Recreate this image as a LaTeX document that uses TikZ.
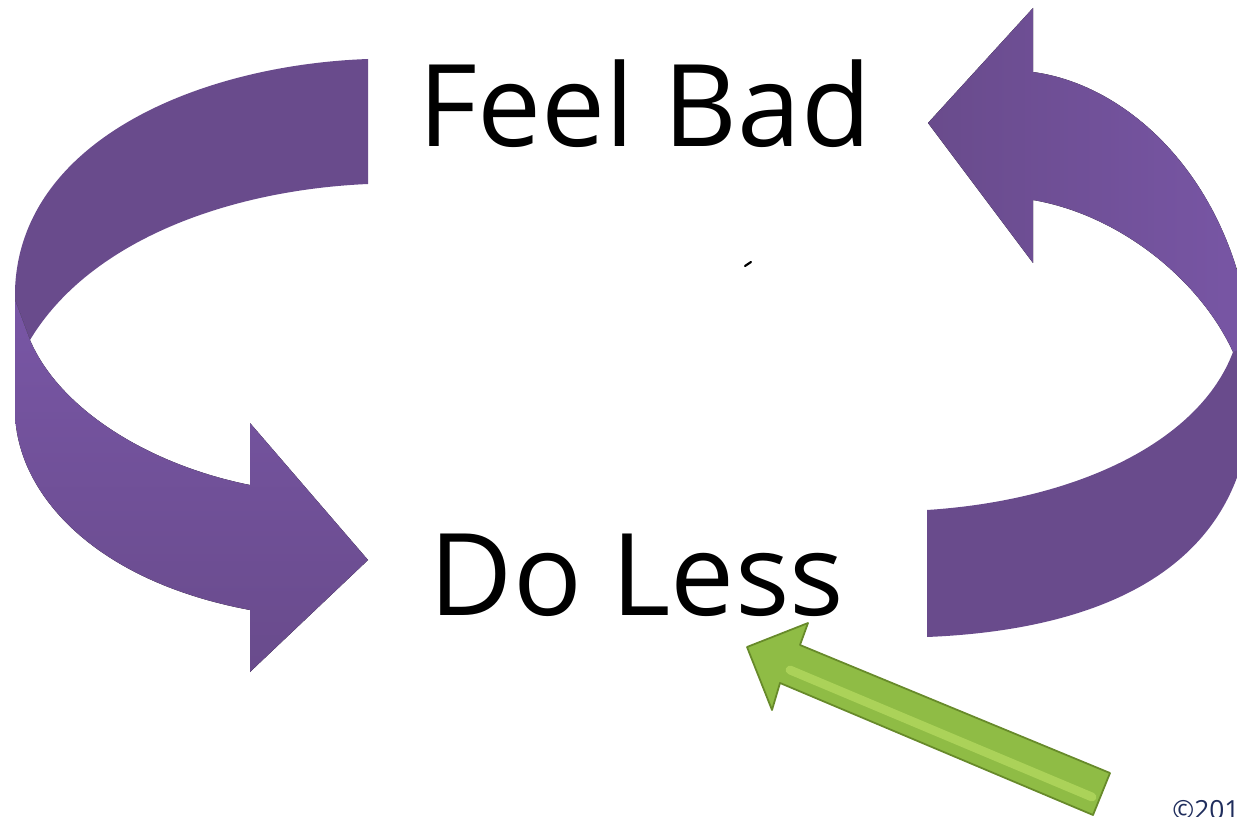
\documentclass[tikz,border=0pt]{standalone}
\usepackage{fontspec}
\setmainfont{Open Sans}
\definecolor{loopdark}{HTML}{694B8C}
\definecolor{looplight}{HTML}{7856A5}
\definecolor{pushgreen}{HTML}{8FBC45}
\definecolor{pushlight}{HTML}{B2D85E}
\definecolor{pushedge}{HTML}{678A2A}
\definecolor{copyblue}{HTML}{1F2D5C}
\tikzset{
  bigword/.style={font=\fontsize{65}{70}\selectfont, inner sep=0pt, anchor=base},
  smallword/.style={font=\fontsize{15}{17}\selectfont, text=copyblue, inner sep=0pt, anchor=base west},
}
\begin{document}
\begin{tikzpicture}[x=0.02cm,y=-0.02cm]
\useasboundingbox (0,0) rectangle (1237,817);
\clip (0,0) rectangle (1237,817);
\fill[loopdark] (368,59) .. controls (200,65) and (20,140) .. (15,290) -- (15,300) -- (30,340) .. controls (90,240) and (230,190) .. (368,184) -- cycle;
\fill[top color=looplight, bottom color=loopdark] (15,300) -- (15,410) .. controls (15,490) and (90,580) .. (250,610) -- (250,672) -- (368,560) -- (250,423) -- (250,485) .. controls (150,465) and (60,410) .. (30,340) -- cycle;
\fill[left color=loopdark, right color=looplight] (1033,72) .. controls (1130,85) and (1230,180) .. (1250,330) -- (1250,350) -- (1233,352) .. controls (1200,280) and (1120,215) .. (1033,200) -- (1033,263) -- (928,123) -- (1033,8) -- cycle;
\fill[loopdark] (1233,352) -- (1250,345) -- (1250,420) .. controls (1235,570) and (1100,630) .. (927,637) -- (927,510) .. controls (1080,500) and (1200,440) .. (1233,352) -- cycle;
\filldraw[fill=pushgreen, draw=pushedge, line width=1pt, line join=round] (747,647) -- (808,623) -- (800,645) -- (1110,773) -- (1093,815) -- (780,683) -- (772,710) -- cycle;
\draw[pushlight, line width=5pt, line cap=round, opacity=0.8] (790,670) -- (1092,797);
\node[bigword] (bad) at (645,147) {Feel Bad};
\node[bigword] (less) at (637,615) {Do Less};
\node[smallword] (copy) at (1172,819) {©2011};
\draw[line width=1.2pt, line cap=round] (745,266) -- (751,262);
\end{tikzpicture}
\end{document}
